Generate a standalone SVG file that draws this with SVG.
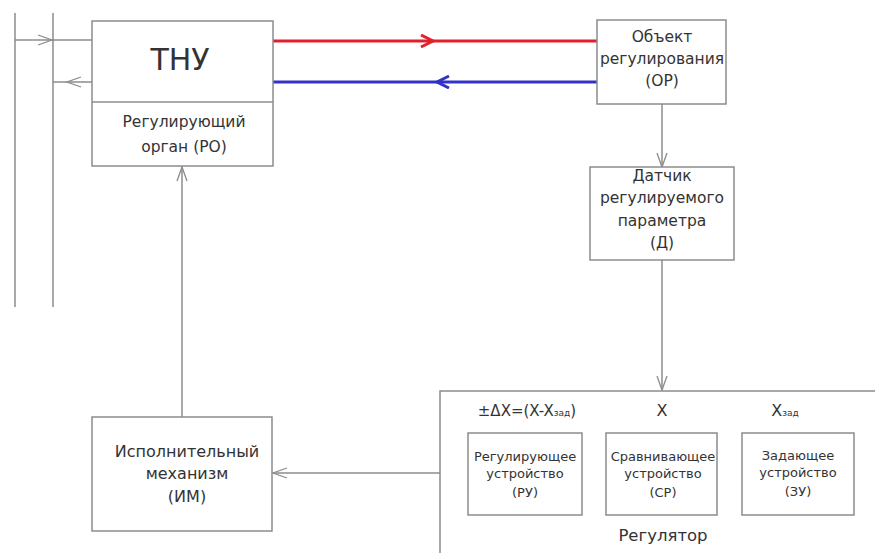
<svg xmlns="http://www.w3.org/2000/svg" width="875" height="553" viewBox="0 0 875 553">
<style>
.box{fill:#fff;stroke:#8c8c8c;stroke-width:1.5}
.ln{fill:none;stroke:#8c8c8c;stroke-width:1.5}
.t{font-family:"DejaVu Sans","Liberation Sans",sans-serif;fill:#333;text-anchor:middle}
.m{font-size:15.5px}
.s{font-size:13px}
</style>
<defs>
<marker id="ag" markerUnits="userSpaceOnUse" markerWidth="18" markerHeight="14" refX="15" refY="6" orient="auto">
<path d="M1,1 L15,6 L1,11" fill="none" stroke="#8c8c8c" stroke-width="1.3"/>
</marker>
<marker id="ar" markerUnits="userSpaceOnUse" markerWidth="18" markerHeight="16" refX="14" refY="7" orient="auto">
<path d="M2,1 L14,7 L2,13" fill="none" stroke="#e0202c" stroke-width="3"/>
</marker>
<marker id="ab" markerUnits="userSpaceOnUse" markerWidth="18" markerHeight="16" refX="14" refY="7" orient="auto">
<path d="M2,1 L14,7 L2,13" fill="none" stroke="#3232c8" stroke-width="3"/>
</marker>
</defs>

<g id="connectors">
<line class="ln" x1="15" y1="13" x2="15" y2="307"/>
<line class="ln" x1="53" y1="13" x2="53" y2="307"/>
<path class="ln" d="M15,40 L52,40 L92,40" marker-mid="url(#ag)"/>
<path class="ln" d="M92,82 L67,82 L53,82" marker-mid="url(#ag)"/>
<path d="M273,41 L433,41 L597,41" fill="none" stroke="#e0202c" stroke-width="3" marker-mid="url(#ar)"/>
<path d="M597,82 L437,82 L273,82" fill="none" stroke="#3232c8" stroke-width="3" marker-mid="url(#ab)"/>
<line class="ln" x1="662" y1="104" x2="662" y2="167" marker-end="url(#ag)"/>
<line class="ln" x1="662" y1="260" x2="662" y2="390" marker-end="url(#ag)"/>
<line class="ln" x1="182" y1="417" x2="182" y2="167" marker-end="url(#ag)"/>
<line class="ln" x1="440" y1="473" x2="273" y2="473" marker-end="url(#ag)"/>
<line class="ln" x1="582" y1="474" x2="606" y2="474"/>
<line class="ln" x1="717" y1="474" x2="742" y2="474"/>
</g>

<g id="tnu">
<rect class="box" x="92" y="21" width="181" height="145"/>
<line class="ln" x1="92" y1="102" x2="273" y2="102"/>
<text class="t" x="180" y="70" style="font-size:30px">ТНУ</text>
<text class="t m" x="184" y="127">Регулирующий</text>
<text class="t m" x="184" y="152">орган (РО)</text>
</g>

<g id="or">
<rect class="box" x="597" y="20" width="129" height="84"/>
<text class="t m" x="662" y="42">Объект</text>
<text class="t m" x="662" y="64">регулирования</text>
<text class="t m" x="662" y="86">(ОР)</text>
</g>

<g id="d">
<rect class="box" x="590" y="167" width="144" height="93"/>
<text class="t m" x="662" y="181">Датчик</text>
<text class="t m" x="662" y="203">регулируемого</text>
<text class="t m" x="662" y="226">параметра</text>
<text class="t m" x="662" y="248">(Д)</text>
</g>

<g id="im">
<rect class="box" x="92" y="417" width="180" height="114"/>
<text class="t" x="187" y="457" style="font-size:16px">Исполнительный</text>
<text class="t" x="187" y="479" style="font-size:16px">механизм</text>
<text class="t" x="187" y="502" style="font-size:16px">(ИМ)</text>
</g>

<g id="regulator">
<rect class="box" x="440" y="391" width="460" height="200"/>
<text class="t" x="527" y="416" style="font-size:15px">±ΔX=(X-X<tspan style="font-size:9px">зад</tspan>)</text>
<text class="t" x="662" y="416" style="font-size:16px">X</text>
<text class="t" x="785" y="416" style="font-size:16px">X<tspan style="font-size:9px">зад</tspan></text>
<text class="t" x="663" y="541" style="font-size:16.5px">Регулятор</text>
</g>

<g id="ru">
<rect class="box" x="468" y="433" width="114" height="82"/>
<text class="t s" x="525" y="461">Регулирующее</text>
<text class="t s" x="525" y="478">устройство</text>
<text class="t s" x="525" y="497">(РУ)</text>
</g>

<g id="sr">
<rect class="box" x="606" y="433" width="111" height="82"/>
<text class="t s" x="663" y="461">Сравнивающее</text>
<text class="t s" x="663" y="478">устройство</text>
<text class="t s" x="663" y="497">(СР)</text>
</g>

<g id="zu">
<rect class="box" x="742" y="433" width="112" height="82"/>
<text class="t s" x="798" y="460">Задающее</text>
<text class="t s" x="798" y="477">устройство</text>
<text class="t s" x="798" y="496">(ЗУ)</text>
</g>
</svg>
